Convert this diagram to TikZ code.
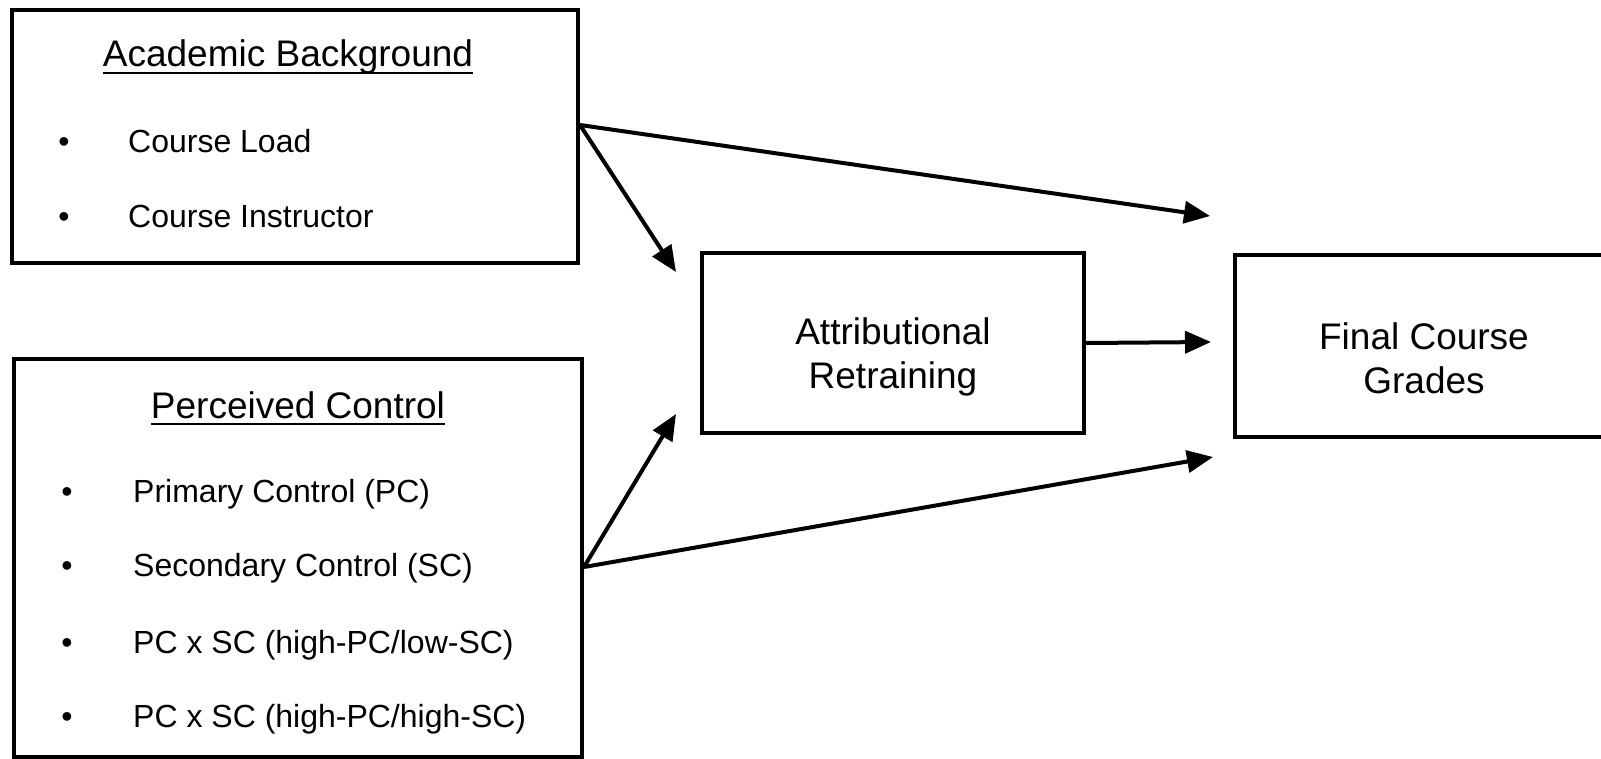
\documentclass[tikz,border=0pt]{standalone}
\usepackage{fontspec}
\setmainfont{Liberation Sans}
\usetikzlibrary{arrows.meta,calc}
\begin{document}
\begin{tikzpicture}[x=1pt,y=-1pt,
  box/.style={draw=black,line width=4pt,rectangle,inner sep=0pt},
  big/.style={font=\fontsize{37}{44}\selectfont,align=center,inner sep=0pt},
  item/.style={font=\fontsize{32}{38}\selectfont,anchor=base west,inner sep=0pt},
  bul/.style={font=\fontsize{32}{38}\selectfont,anchor=base,inner sep=0pt},
  arr/.style={line width=4pt,-{Triangle[length=26pt,width=22pt]}},
  uline/.style={line width=2pt}]
\useasboundingbox (0,0) rectangle (1601,758);
\fill[white] (0,0) rectangle (1601,758);
% boxes
\node[box,minimum width=566pt,minimum height=253pt] (A) at (295,136.5) {};
\node[box,minimum width=568pt,minimum height=398pt] (P) at (298,558) {};
\node[box,minimum width=382pt,minimum height=180pt] (AR) at (893,343) {};
\node[box,minimum width=375pt,minimum height=182pt] (FCG) at (1422.5,346) {};
% Academic Background
\node[big] (ha) at (288,57) {Academic Background};
\draw[uline] ([yshift=-6pt]ha.base west) -- ([yshift=-6pt]ha.base east);
\node[bul] (ba1) at (64,152) {•};
\node[item] (ia1) at (128,152) {Course Load};
\node[bul] (ba2) at (64,227) {•};
\node[item] (ia2) at (128,227) {Course Instructor};
% Perceived Control
\node[big] (hp) at (298,405) {Perceived Control};
\draw[uline] ([yshift=-6pt]hp.base west) -- ([yshift=-6pt]hp.base east);
\node[bul] (bp1) at (67,502) {•};
\node[item] (ip1) at (133,502) {Primary Control (PC)};
\node[bul] (bp2) at (67,576) {•};
\node[item] (ip2) at (133,576) {Secondary Control (SC)};
\node[bul] (bp3) at (67,653) {•};
\node[item] (ip3) at (133,653) {PC x SC (high-PC/low-SC)};
\node[bul] (bp4) at (67,727) {•};
\node[item] (ip4) at (133,727) {PC x SC (high-PC/high-SC)};
% middle and right texts
\node[big] (tar) at (893,357) {Attributional\\Retraining};
\node[big] (tfcg) at (1424,358) {Final Course\\Grades};
% connector end points
\coordinate (as) at ($(A.east)+(0,-11.5)$);
\coordinate (ps) at ($(P.east)+(0,9)$);
\coordinate (t1) at (1210,216);
\coordinate (t2) at (676,272);
\coordinate (t3) at (676,414);
\coordinate (t4) at (1213,457);
\coordinate (t5) at (1211,342);
\draw[arr] (as) -- (t1);
\draw[arr] (as) -- (t2);
\draw[arr] (ps) -- (t3);
\draw[arr] (ps) -- (t4);
\draw[arr] (AR.east) -- (t5);
\end{tikzpicture}
\end{document}
